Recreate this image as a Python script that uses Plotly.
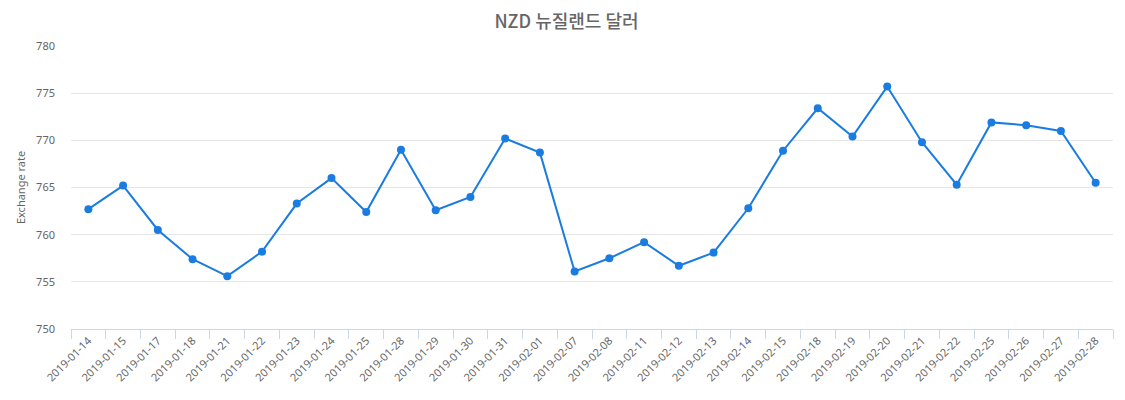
import plotly.graph_objects as go

# NZD exchange rate
dates = [
    "2019-01-14", "2019-01-15", "2019-01-17", "2019-01-18", "2019-01-21",
    "2019-01-22", "2019-01-23", "2019-01-24", "2019-01-25", "2019-01-28",
    "2019-01-29", "2019-01-30", "2019-01-31", "2019-02-01", "2019-02-07",
    "2019-02-08", "2019-02-11", "2019-02-12", "2019-02-13", "2019-02-14",
    "2019-02-15", "2019-02-18", "2019-02-19", "2019-02-20", "2019-02-21",
    "2019-02-22", "2019-02-25", "2019-02-26", "2019-02-27", "2019-02-28",
]
rates = [
    762.7, 765.2, 760.5, 757.4, 755.6,
    758.2, 763.3, 766.0, 762.4, 769.0,
    762.6, 764.0, 770.2, 768.7, 756.1,
    757.5, 759.2, 756.7, 758.1, 762.8,
    768.9, 773.4, 770.4, 775.7, 769.8,
    765.3, 771.9, 771.6, 771.0, 765.5,
]
y_ticks = [750, 755, 760, 765, 770, 775, 780]

font = "Noto Sans, Open Sans, sans-serif"
blue = "#1b7ce0"

fig = go.Figure()
fig.add_trace(go.Scatter(
    x=dates, y=rates,
    mode="lines+markers",
    line=dict(color=blue, width=2),
    marker=dict(color=blue, size=8),
    showlegend=False,
))

# the page puts the plot 8px in from the top-left corner, so the figure is
# a bit smaller than the window to keep the plot area where it should be
fig.update_layout(
    width=1117, height=392,
    margin=dict(l=61, r=12, t=38, b=71),
    paper_bgcolor="white",
    plot_bgcolor="white",
    title=dict(
        text="NZD 뉴질랜드 달러",
        x=0.5, xanchor="center", y=0.966, yanchor="middle",
        font=dict(family="Noto Sans CJK KR", size=18, color="#666666", weight=500),
    ),
    font=dict(family=font, size=11, color="#666666"),
    xaxis=dict(
        type="category",
        range=[-0.5, len(dates) - 0.5],
        tickangle=-45,
        ticks="outside", ticklen=9, tickcolor="#ccd6eb",
        tickson="boundaries",
        showline=True, linecolor="#ccd6eb", linewidth=1,
        showgrid=False,
        tickfont=dict(size=11, color="#666666"),
    ),
    yaxis=dict(
        range=[750, 780],
        tickvals=y_ticks,
        showgrid=True, gridcolor="#e6e6e6",
        zeroline=False, showline=False,
        ticks="", ticklabelstandoff=15,
        tickfont=dict(size=11, color="#666666"),
        title=dict(text="Exchange rate", font=dict(size=11, color="#666666"), standoff=8),
    ),
)

fig.write_html("out.html")
